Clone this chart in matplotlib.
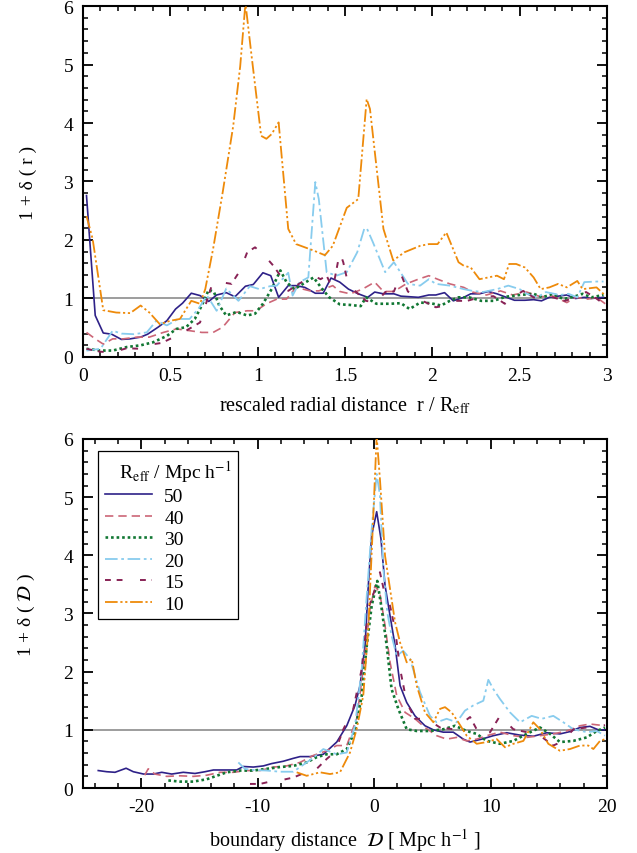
#!/usr/bin/env python3
"""Stacked density profiles: 1 + delta versus rescaled radius and versus boundary distance."""

import matplotlib
matplotlib.use("Agg")
import matplotlib.pyplot as plt
import numpy as np
from matplotlib.ticker import MultipleLocator

# ---- data ----
R_EFF_LABELS = ["50", "40", "30", "20", "15", "10"]

# top panel: (r / R_eff, 1 + delta)
TOP_50 = [(0.02, 2.76), (0.07, 0.71), (0.116, 0.41), (0.164, 0.39), (0.22, 0.30), (0.27, 0.31),
          (0.33, 0.34), (0.37, 0.39), (0.43, 0.51), (0.48, 0.62), (0.53, 0.82), (0.57, 0.92),
          (0.62, 1.09), (0.67, 1.05), (0.72, 0.95), (0.765, 1.06), (0.82, 1.10), (0.87, 1.03),
          (0.93, 1.21), (0.975, 1.24), (1.03, 1.44), (1.075, 1.39), (1.12, 1.02), (1.175, 1.22),
          (1.22, 1.22), (1.27, 1.19), (1.33, 1.09), (1.375, 1.09), (1.42, 1.35), (1.47, 1.28),
          (1.52, 1.16), (1.576, 1.08), (1.63, 1.02), (1.67, 1.11), (1.72, 1.08), (1.78, 1.08),
          (1.82, 1.04), (1.87, 1.03), (1.92, 1.02), (1.98, 1.06), (2.02, 1.06), (2.07, 1.10),
          (2.12, 0.96), (2.18, 1.02), (2.22, 1.08), (2.27, 1.08), (2.32, 1.12), (2.37, 1.08),
          (2.415, 1.03), (2.47, 0.97), (2.53, 0.97), (2.58, 0.98), (2.625, 0.96), (2.67, 1.02),
          (2.72, 1.04), (2.77, 1.06), (2.82, 1.00), (2.87, 1.02), (2.91, 1.00), (2.98, 1.02)]
TOP_40 = [(0.02, 0.42), (0.07, 0.31), (0.116, 0.22), (0.17, 0.31), (0.23, 0.31), (0.31, 0.34),
          (0.38, 0.34), (0.46, 0.42), (0.535, 0.48), (0.61, 0.45), (0.68, 0.42), (0.745, 0.42),
          (0.80, 0.51), (0.87, 0.76), (0.94, 0.79), (0.99, 0.79), (1.05, 0.91), (1.11, 0.99),
          (1.165, 0.99), (1.22, 1.19), (1.30, 1.13), (1.35, 1.13), (1.43, 1.22), (1.47, 1.12),
          (1.53, 1.08), (1.60, 1.16), (1.67, 1.28), (1.72, 1.12), (1.78, 1.12), (1.85, 1.25),
          (1.92, 1.33), (1.98, 1.39), (2.03, 1.33), (2.10, 1.25), (2.18, 1.19), (2.23, 1.11),
          (2.31, 1.06), (2.39, 1.13), (2.46, 1.06), (2.54, 1.11), (2.62, 1.03), (2.69, 1.04),
          (2.77, 0.93), (2.82, 1.02), (2.89, 0.99), (2.94, 1.02), (2.99, 0.91)]
TOP_30 = [(0.02, 0.14), (0.10, 0.11), (0.17, 0.11), (0.25, 0.17), (0.33, 0.20), (0.40, 0.25),
          (0.48, 0.36), (0.535, 0.48), (0.59, 0.51), (0.64, 0.65), (0.68, 0.88), (0.72, 1.15),
          (0.75, 1.11), (0.78, 0.88), (0.82, 0.71), (0.88, 0.77), (0.94, 0.71), (0.985, 0.74),
          (1.03, 0.91), (1.08, 1.16), (1.13, 1.48), (1.165, 1.28), (1.21, 1.16), (1.26, 1.25),
          (1.32, 1.36), (1.37, 1.16), (1.41, 1.02), (1.47, 0.90), (1.53, 0.89), (1.59, 0.87),
          (1.62, 1.02), (1.68, 0.91), (1.76, 0.91), (1.82, 0.92), (1.87, 0.82), (1.93, 0.93),
          (1.99, 0.92), (2.05, 0.88), (2.10, 0.96), (2.15, 1.02), (2.21, 1.02), (2.28, 0.96),
          (2.35, 0.96), (2.42, 1.03), (2.50, 1.06), (2.58, 1.08), (2.63, 1.02), (2.69, 1.08),
          (2.75, 0.99), (2.81, 1.03), (2.86, 1.08), (2.91, 1.02), (2.98, 1.06)]
TOP_20 = [(0.02, 0.11), (0.10, 0.14), (0.17, 0.45), (0.22, 0.40), (0.29, 0.39), (0.365, 0.42),
          (0.42, 0.62), (0.48, 0.54), (0.545, 0.65), (0.61, 0.65), (0.66, 0.82), (0.71, 1.05),
          (0.765, 0.79), (0.82, 1.17), (0.89, 0.96), (0.955, 1.21), (1.01, 1.16), (1.07, 1.21),
          (1.11, 1.22), (1.15, 1.36), (1.175, 1.44), (1.20, 1.05), (1.24, 1.28), (1.29, 1.36),
          (1.33, 2.99), (1.35, 2.70), (1.395, 1.45), (1.45, 1.39), (1.51, 1.45), (1.57, 1.79),
          (1.61, 2.19), (1.625, 2.20), (1.66, 1.96), (1.73, 1.45), (1.78, 1.62), (1.83, 1.39),
          (1.86, 1.25), (1.93, 1.22), (1.98, 1.33), (2.02, 1.25), (2.10, 1.22), (2.18, 1.16),
          (2.23, 1.13), (2.29, 1.11), (2.37, 1.16), (2.435, 1.22), (2.50, 1.16), (2.54, 1.08),
          (2.60, 1.02), (2.65, 1.11), (2.73, 1.06), (2.78, 1.08), (2.83, 1.02), (2.87, 1.28),
          (2.94, 1.29), (2.98, 1.29)]
TOP_15 = [(0.02, 0.14), (0.10, 0.09), (0.17, 0.08), (0.25, 0.15), (0.33, 0.14), (0.38, 0.21),
          (0.45, 0.24), (0.52, 0.34), (0.59, 0.45), (0.67, 0.59), (0.74, 1.25), (0.79, 1.28),
          (0.85, 1.25), (0.90, 1.48), (0.94, 1.79), (0.985, 1.875), (1.04, 1.73), (1.09, 1.56),
          (1.13, 1.39), (1.175, 1.13), (1.22, 1.22), (1.28, 1.33), (1.32, 1.39), (1.36, 1.33),
          (1.395, 1.39), (1.43, 1.16), (1.47, 1.79), (1.49, 1.62), (1.52, 1.22), (1.576, 1.08),
          (1.62, 0.96), (1.68, 0.93), (1.73, 1.11), (1.78, 1.12), (1.82, 1.42), (1.86, 1.12),
          (1.92, 0.99), (1.98, 0.91), (2.02, 0.85), (2.08, 0.88), (2.13, 0.96), (2.20, 0.96),
          (2.27, 1.02), (2.35, 1.04), (2.415, 0.91), (2.46, 1.02), (2.52, 1.13), (2.58, 1.02),
          (2.63, 0.99), (2.69, 1.02), (2.76, 0.96), (2.82, 1.02), (2.88, 1.11), (2.93, 1.02),
          (2.98, 0.91)]
TOP_10 = [(0.02, 2.41), (0.055, 2.02), (0.116, 0.80), (0.19, 0.76), (0.27, 0.75), (0.33, 0.88),
          (0.38, 0.76), (0.44, 0.56), (0.50, 0.62), (0.555, 0.65), (0.62, 0.96), (0.67, 0.91),
          (0.70, 1.16), (0.745, 1.85), (0.80, 2.82), (0.86, 3.95), (0.90, 4.97), (0.93, 6.05),
          (0.965, 5.15), (1.02, 3.78), (1.05, 3.73), (1.08, 3.81), (1.12, 4.01), (1.175, 2.19),
          (1.22, 1.93), (1.32, 1.82), (1.385, 1.74), (1.43, 1.90), (1.51, 2.55), (1.576, 2.70),
          (1.624, 4.41), (1.643, 4.24), (1.72, 2.19), (1.776, 1.65), (1.84, 1.79), (1.93, 1.90),
          (1.98, 1.93), (2.03, 1.93), (2.08, 2.13), (2.15, 1.62), (2.18, 1.56), (2.22, 1.53),
          (2.27, 1.33), (2.37, 1.39), (2.41, 1.33), (2.44, 1.59), (2.48, 1.59), (2.53, 1.53),
          (2.58, 1.36), (2.62, 1.16), (2.67, 1.19), (2.72, 1.25), (2.77, 1.19), (2.83, 1.30),
          (2.86, 1.16), (2.94, 1.19), (2.99, 1.05)]

# bottom panel: (D [Mpc/h], 1 + delta)
BOT_50 = [(-23.69, 0.30), (-22.96, 0.28), (-22.25, 0.27), (-21.3, 0.34), (-20.68, 0.28),
          (-19.8, 0.24), (-18.96, 0.24), (-18.24, 0.27), (-17.38, 0.24), (-16.39, 0.27),
          (-15.38, 0.25), (-14.52, 0.28), (-13.8, 0.31), (-12.66, 0.31), (-11.8, 0.31),
          (-11.23, 0.37), (-10.37, 0.36), (-9.51, 0.38), (-8.8, 0.42), (-7.8, 0.46),
          (-6.94, 0.51), (-6.36, 0.54), (-5.5, 0.54), (-4.36, 0.58), (-3.21, 0.79),
          (-2.35, 1.07), (-1.64, 1.42), (-1.21, 1.76), (-0.78, 2.45), (-0.5, 3.48),
          (-0.21, 4.34), (0.22, 4.75), (0.59, 4.28), (0.94, 3.48), (1.37, 2.96), (1.80, 2.45),
          (2.23, 1.76), (2.8, 1.47), (3.51, 1.24), (4.37, 1.07), (5.09, 1.00), (5.94, 0.96),
          (6.8, 0.96), (7.66, 0.84), (8.24, 0.79), (9.24, 0.84), (10.24, 0.90), (11.39, 0.95),
          (12.5, 0.91), (13.67, 0.89), (14.82, 0.95), (15.96, 0.93), (16.82, 0.97),
          (17.68, 1.04), (18.54, 1.06), (19.26, 1.00), (19.8, 1.00)]
BOT_40 = [(-19.7, 0.22), (-19.4, 0.33), (-18.82, 0.24), (-17.81, 0.20), (-16.67, 0.21),
          (-15.53, 0.20), (-14.38, 0.22), (-13.23, 0.27), (-12.09, 0.27), (-10.95, 0.30),
          (-9.8, 0.30), (-8.65, 0.36), (-7.51, 0.38), (-6.36, 0.44), (-5.22, 0.56),
          (-4.07, 0.64), (-3.21, 0.73), (-2.35, 0.73), (-1.5, 1.19), (-0.93, 2.05),
          (-0.35, 3.08), (0.08, 3.48), (0.5, 3.34), (0.94, 2.79), (1.37, 2.16), (1.94, 1.59),
          (2.66, 1.30), (3.51, 1.19), (4.37, 1.04), (5.37, 0.90), (6.23, 0.84), (7.09, 0.87),
          (7.95, 0.81), (8.81, 0.84), (9.67, 0.90), (10.81, 0.96), (11.96, 0.90), (13.1, 0.87),
          (14.25, 0.90), (15.39, 0.93), (16.54, 0.98), (17.68, 1.07), (18.54, 1.10),
          (19.83, 1.07)]
BOT_30 = [(-17.67, 0.13), (-16.67, 0.11), (-15.53, 0.11), (-14.38, 0.15), (-13.52, 0.21),
          (-12.66, 0.27), (-11.52, 0.30), (-10.37, 0.30), (-9.22, 0.33), (-8.08, 0.36),
          (-6.94, 0.38), (-5.79, 0.44), (-4.93, 0.53), (-4.07, 0.58), (-3.21, 0.58),
          (-2.35, 0.67), (-1.64, 0.98), (-1.06, 1.59), (-0.63, 2.45), (-0.21, 3.13),
          (0.27, 3.56), (0.65, 3.08), (1.08, 2.45), (1.5, 1.70), (2.08, 1.36), (2.8, 1.01),
          (3.66, 0.98), (4.8, 0.98), (5.94, 1.01), (6.95, 1.07), (7.95, 0.98), (8.81, 0.93),
          (9.67, 0.81), (10.81, 0.76), (11.96, 0.81), (13.1, 0.93), (14.25, 1.04),
          (15.11, 0.93), (15.96, 0.79), (17.11, 0.81), (18.26, 0.87), (19.12, 0.98),
          (19.83, 1.04)]
BOT_20 = [(-11.66, 0.44), (-11.1, 0.33), (-10.4, 0.31), (-9.22, 0.30), (-8.08, 0.28),
          (-6.94, 0.28), (-6.22, 0.38), (-5.22, 0.52), (-4.36, 0.67), (-3.21, 0.58),
          (-2.35, 0.61), (-1.64, 1.07), (-1.06, 2.05), (-0.63, 3.31), (-0.21, 4.45),
          (0.22, 5.40), (0.5, 5.03), (0.79, 3.77), (1.13, 3.02), (1.5, 2.62), (1.94, 2.27),
          (2.5, 2.36), (3.08, 2.22), (3.94, 1.65), (4.8, 1.24), (5.37, 1.13), (6.23, 1.19),
          (7.09, 1.13), (7.8, 1.33), (8.52, 1.42), (9.38, 1.50), (9.81, 1.86), (10.24, 1.70),
          (10.81, 1.53), (11.67, 1.30), (12.53, 1.13), (13.53, 1.24), (14.39, 1.19),
          (15.39, 1.24), (16.25, 1.13), (17.11, 1.01), (18.26, 0.96), (19.12, 0.98),
          (19.83, 0.90)]
BOT_15 = [(-10.66, 0.07), (-9.8, 0.07), (-8.94, 0.11), (-8.08, 0.13), (-6.94, 0.18),
          (-6.22, 0.24), (-5.08, 0.30), (-4.07, 0.50), (-3.36, 0.62), (-2.64, 1.01),
          (-1.79, 1.36), (-1.06, 2.05), (-0.5, 3.08), (0.08, 3.42), (0.5, 3.71), (0.94, 3.31),
          (1.37, 3.13), (1.8, 2.73), (2.23, 2.05), (2.8, 1.47), (3.51, 1.19), (4.51, 1.19),
          (5.66, 1.04), (6.8, 1.01), (7.66, 1.13), (8.24, 1.22), (9.1, 0.90), (9.96, 0.96),
          (10.81, 1.24), (11.96, 1.01), (13.1, 0.96), (14.25, 0.90), (15.39, 0.73),
          (16.25, 0.81), (17.11, 1.01), (18.26, 1.04), (19.4, 1.07), (19.83, 1.08)]
BOT_10 = [(-6.65, 0.27), (-5.79, 0.21), (-4.65, 0.27), (-3.79, 0.24), (-2.93, 0.27),
          (-2.07, 0.61), (-1.5, 1.01), (-0.93, 1.59), (-0.5, 2.73), (-0.12, 4.45), (0.22, 6.05),
          (0.5, 5.31), (0.94, 3.99), (1.37, 3.42), (1.8, 2.85), (2.23, 2.50), (2.80, 2.16),
          (3.23, 2.22), (3.66, 1.76), (4.37, 1.30), (5.09, 1.13), (5.66, 1.36), (6.09, 1.39),
          (6.66, 1.30), (7.23, 1.13), (7.95, 0.90), (8.81, 0.76), (9.67, 0.79), (10.53, 0.84),
          (11.24, 0.70), (11.96, 0.76), (12.82, 0.81), (13.67, 1.13), (14.25, 1.01),
          (14.96, 0.76), (15.96, 0.64), (16.82, 0.67), (17.68, 0.73), (18.39, 0.73),
          (18.83, 0.67), (19.4, 0.81), (19.83, 0.84)]

TOP_SERIES = [TOP_50, TOP_40, TOP_30, TOP_20, TOP_15, TOP_10]
BOT_SERIES = [BOT_50, BOT_40, BOT_30, BOT_20, BOT_15, BOT_10]

# ---- styles ----
COLORS = ["#2e2188", "#cc6677", "#117733", "#88ccee", "#882255", "#ee8a0a"]
STYLES = [
    dict(linestyle="-", linewidth=1.2),
    dict(linestyle=(0, (5, 3)), linewidth=1.2),
    dict(linestyle=(0, (1, 1.1)), linewidth=1.9),
    dict(linestyle=(0, (7, 2, 1.5, 2)), linewidth=1.3),
    dict(linestyle=(0, (3, 3, 3, 9)), linewidth=1.4),
    dict(linestyle=(0, (7, 1.5, 1.2, 1.5, 1.2, 1.5)), linewidth=1.3),
]

plt.rcParams["font.family"] = ["Liberation Serif", "DejaVu Serif"]
plt.rcParams["mathtext.fontset"] = "stix"
plt.rcParams["axes.linewidth"] = 1.5
plt.rcParams["axes.unicode_minus"] = False


def style_axes(ax, xmajor, xminor):
    ax.set_ylim(0, 6)
    ax.yaxis.set_major_locator(MultipleLocator(1))
    ax.yaxis.set_minor_locator(MultipleLocator(0.2))
    ax.xaxis.set_major_locator(MultipleLocator(xmajor))
    ax.xaxis.set_minor_locator(MultipleLocator(xminor))
    ax.tick_params(which="both", direction="in", top=True, right=True, labelsize=14)
    ax.tick_params(which="major", length=7, width=1.3, pad=7)
    ax.tick_params(which="minor", length=3.6, width=1.1)
    ax.axhline(1.0, color="#8c8c8c", linewidth=1.2, zorder=1)


def draw_series(ax, series_list):
    handles = []
    for pts, label, color, style in zip(series_list, R_EFF_LABELS, COLORS, STYLES):
        x, y = np.array(pts).T
        (line,) = ax.plot(x, y, color=color, label=label, zorder=3, **style)
        handles.append(line)
    return handles


def main():
    fig = plt.figure(figsize=(6.37, 8.54), dpi=100)
    ax_top = fig.add_axes([0.1303, 0.5808, 0.8226, 0.4110])
    ax_bot = fig.add_axes([0.1303, 0.0761, 0.8226, 0.4087])

    # top: profile vs rescaled radius
    draw_series(ax_top, TOP_SERIES)
    ax_top.set_xlim(0, 3)
    style_axes(ax_top, 0.5, 0.1)
    ax_top.set_xticks([0, 0.5, 1, 1.5, 2, 2.5, 3])
    ax_top.set_xticklabels(["0", "0.5", "1", "1.5", "2", "2.5", "3"])
    ax_top.set_xlabel(r"rescaled radial distance  r / R$_{\rm eff}$", fontsize=14.5, labelpad=8)
    ax_top.set_ylabel("1 + δ ( r )", fontsize=14, labelpad=19)

    # bottom: profile vs boundary distance
    handles = draw_series(ax_bot, BOT_SERIES)
    ax_bot.set_xlim(-25, 20)
    style_axes(ax_bot, 10, 2)
    ax_bot.set_xlabel(r"boundary distance  $\mathcal{D}$ [ Mpc h$^{-1}$ ]", fontsize=14.5, labelpad=8)
    ax_bot.set_ylabel(r"1 + δ ( $\mathcal{D}$ )", fontsize=14, labelpad=19)

    leg = ax_bot.legend(
        handles=handles,
        title=r"   R$_{\rm eff}$ / Mpc h$^{-1}$",
        loc="upper left",
        bbox_to_anchor=(0.029, 0.966),
        borderaxespad=0,
        fontsize=14,
        title_fontsize=14,
        handlelength=2.4,
        handletextpad=0.65,
        labelspacing=0.2,
        alignment="left",
        fancybox=False,
        framealpha=1,
        edgecolor="black",
        borderpad=0.35,
    )
    leg.get_frame().set_linewidth(0.9)

    fig.savefig("out.png", dpi=100)
    plt.close(fig)


if __name__ == "__main__":
    main()
